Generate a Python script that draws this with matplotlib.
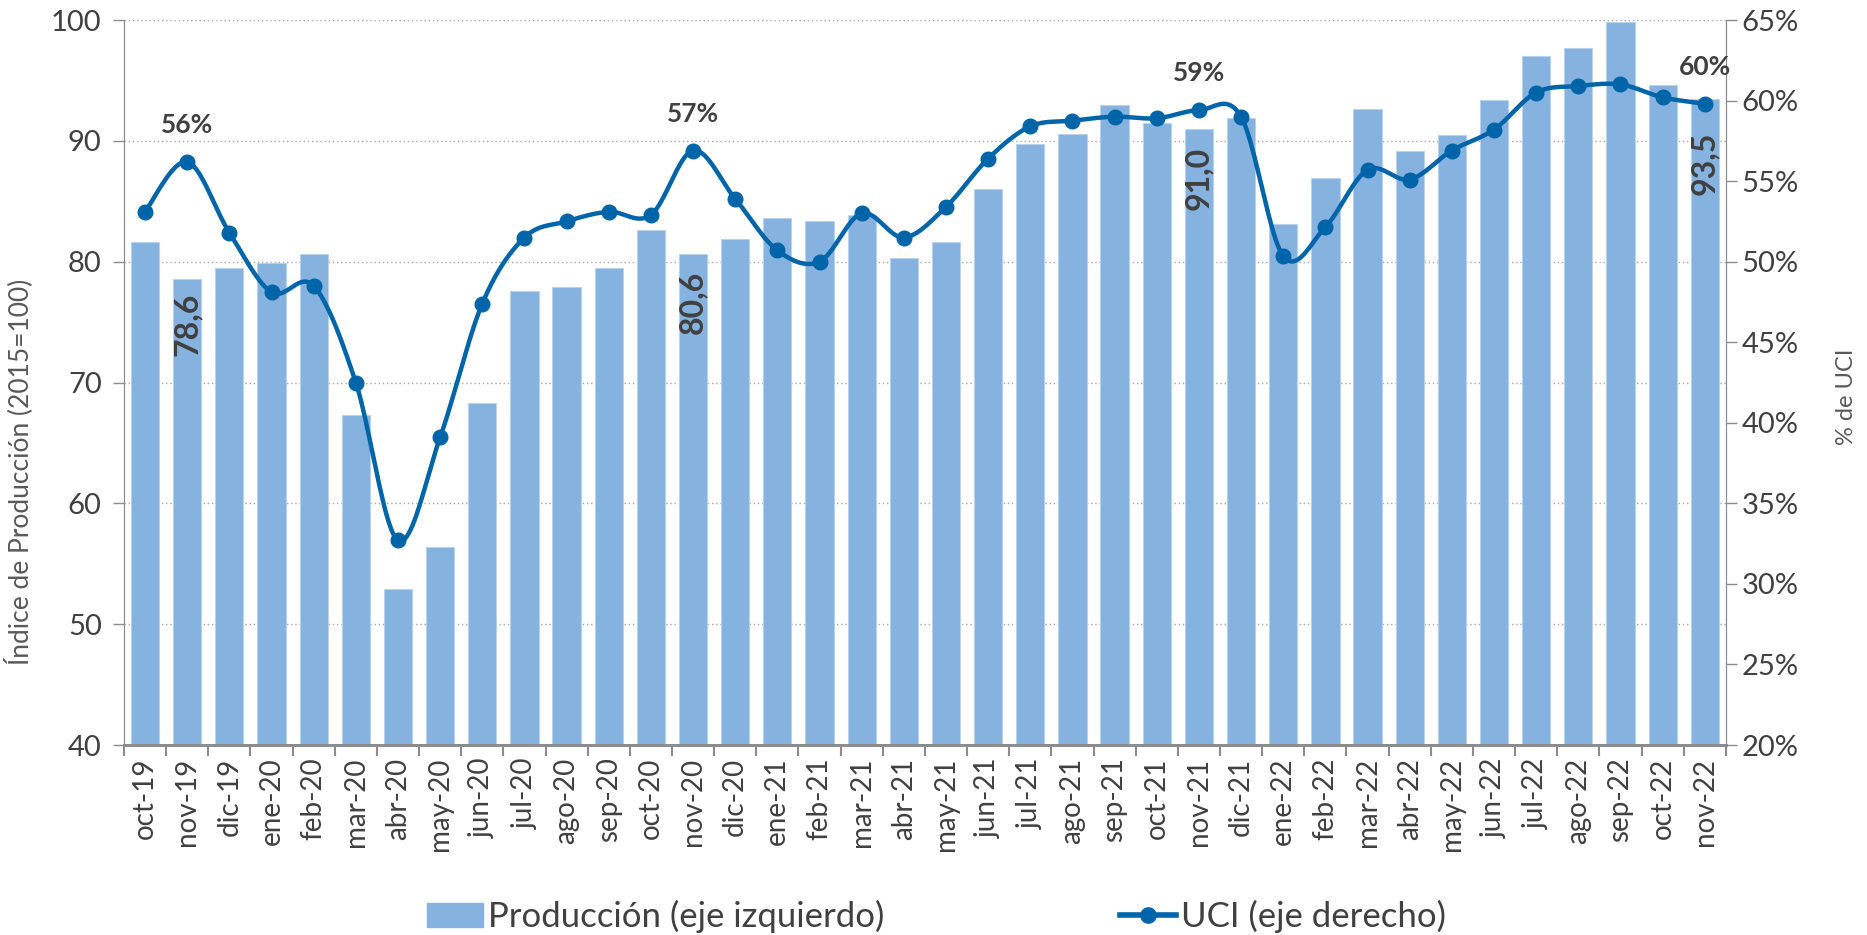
import numpy as np
import matplotlib.pyplot as plt
from matplotlib.lines import Line2D
from matplotlib.patches import Patch

plt.rcParams['font.family'] = ['Lato', 'DejaVu Sans']

meses = ["oct-19", "nov-19", "dic-19",
         "ene-20", "feb-20", "mar-20", "abr-20", "may-20", "jun-20",
         "jul-20", "ago-20", "sep-20", "oct-20", "nov-20", "dic-20",
         "ene-21", "feb-21", "mar-21", "abr-21", "may-21", "jun-21",
         "jul-21", "ago-21", "sep-21", "oct-21", "nov-21", "dic-21",
         "ene-22", "feb-22", "mar-22", "abr-22", "may-22", "jun-22",
         "jul-22", "ago-22", "sep-22", "oct-22", "nov-22"]

# indice de produccion (2015=100)
produccion = [81.6, 78.6, 79.5, 79.9, 80.6, 67.3, 52.9, 56.4, 68.3,
              77.6, 77.9, 79.5, 82.6, 80.6, 81.9,
              83.6, 83.4, 83.9, 80.3, 81.6, 86.0,
              89.7, 90.6, 93.0, 91.5, 91.0, 91.9,
              83.1, 86.9, 92.6, 89.2, 90.5, 93.4,
              97.0, 97.7, 99.8, 94.6, 93.5]

# UCI en %
uci = [53.1, 56.2, 51.8, 48.1, 48.5, 42.5, 32.7, 39.1, 47.4,
       51.5, 52.5, 53.1, 52.9, 56.9, 53.9,
       50.7, 50.0, 53.0, 51.5, 53.4, 56.4,
       58.4, 58.75, 59.0, 58.9, 59.4, 59.0,
       50.35, 52.15, 55.7, 55.1, 56.9, 58.2,
       60.5, 60.9, 61.0, 60.2, 59.8]

# etiquetas destacadas
barras_etiq = {1: "78,6", 13: "80,6", 25: "91,0", 37: "93,5"}
barras_off = {1: 10, 13: 12, 25: 13, 37: 24}
uci_etiq = {1: "56%", 13: "57%", 25: "59%", 37: "60%"}

COL_BAR = "#85B2DF"
COL_LINE = "#0064A8"
COL_TXT = "#404040"
COL_AX = "#8C8C8C"


def suavizar(x, y, n=24):
    # curva suavizada tipo Excel (bezier con tangentes catmull-rom)
    p = np.column_stack([x, y]).astype(float)
    out = []
    for i in range(len(p) - 1):
        p0 = p[i - 1] if i > 0 else p[i]
        p3 = p[i + 2] if i + 2 < len(p) else p[i + 1]
        c1 = p[i] + (p[i + 1] - p0) / 6
        c2 = p[i + 1] - (p3 - p[i]) / 6
        t = np.linspace(0, 1, n)[:, None]
        seg = ((1 - t) ** 3) * p[i] + 3 * ((1 - t) ** 2) * t * c1 + 3 * (1 - t) * t ** 2 * c2 + t ** 3 * p[i + 1]
        out.append(seg if i == 0 else seg[1:])
    out = np.vstack(out)
    return out[:, 0], out[:, 1]


x = np.arange(len(meses))

fig = plt.figure(figsize=(18.67, 9.35), dpi=100)
ax = fig.add_axes([0.0664, 0.2032, 0.858, 0.7754])
ax2 = ax.twinx()

ax.bar(x, produccion, width=0.67, bottom=0, color=COL_BAR, edgecolor="#B9D3EE", linewidth=0.8, zorder=2)
ax.set_axisbelow(True)
ax.set_ylim(40, 100)
ax.set_yticks(np.arange(40, 101, 10))
ax.set_xlim(-0.5, len(meses) - 0.5)
ax.yaxis.grid(True, linestyle=(0, (1, 2)), color="#A6A6A6", linewidth=1.0)

ax.set_xticks(x)
ax.set_xticklabels(meses, rotation=90, fontsize=20, color=COL_TXT)
ax.set_xticks(np.arange(-0.5, len(meses), 1), minor=True)
ax.tick_params(axis="x", which="major", length=0, pad=9)
ax.tick_params(axis="x", which="minor", length=8, width=1.5, color=COL_AX, direction="out")
ax.tick_params(axis="y", labelsize=21, colors=COL_TXT, length=8, width=1, color=COL_AX, pad=8)
ax.set_ylabel("Índice de Producción (2015=100)", fontsize=19, color="#595959")
ax.yaxis.set_label_coords(-0.0566, 0.377)

for i, txt in barras_etiq.items():
    ax.annotate(txt, (x[i], produccion[i]), xytext=(0, -barras_off[i]), textcoords="offset points",
                rotation=90, ha="center", va="top", fontsize=23, fontweight="bold", color=COL_TXT, zorder=5)

xs, ys = suavizar(x, uci)
ax2.plot(xs, ys, color=COL_LINE, linewidth=3.2, solid_capstyle="round", zorder=3)
ax2.plot(x, uci, linestyle="none", marker="o", markersize=10.5, color=COL_LINE, zorder=4)
ax2.set_ylim(20, 65)
ax2.set_yticks(np.arange(20, 66, 5))
ax2.set_yticklabels([f"{v}%" for v in range(20, 66, 5)])
ax2.tick_params(axis="y", labelsize=21, colors=COL_TXT, length=8, width=1, color=COL_AX)
ax2.set_ylabel("% de UCI", fontsize=17, color="#595959")
ax2.yaxis.set_label_coords(1.069, 0.48)

for i, txt in uci_etiq.items():
    ax2.annotate(txt, (x[i], uci[i]), xytext=(0, 26.5), textcoords="offset points",
                 ha="center", va="center", fontsize=19, fontweight="bold", color=COL_TXT)

for a in (ax, ax2):
    a.spines["top"].set_visible(False)
    a.spines["left"].set_color(COL_AX)
    a.spines["right"].set_color(COL_AX)
    a.spines["bottom"].set_color(COL_AX)
    a.spines["bottom"].set_linewidth(2)

handles = [Patch(facecolor=COL_BAR, edgecolor=COL_BAR),
           Line2D([0], [0], color=COL_LINE, linewidth=4, marker="o", markersize=11)]
fig.legend(handles, ["Producción (eje izquierdo)", "UCI (eje derecho)"], loc="center",
           bbox_to_anchor=(0.5016, 0.02), ncol=2, frameon=False, fontsize=25,
           handlelength=1.6, handletextpad=0.15, columnspacing=6.8, labelcolor=COL_TXT)

fig.savefig("out.png", dpi=100)
